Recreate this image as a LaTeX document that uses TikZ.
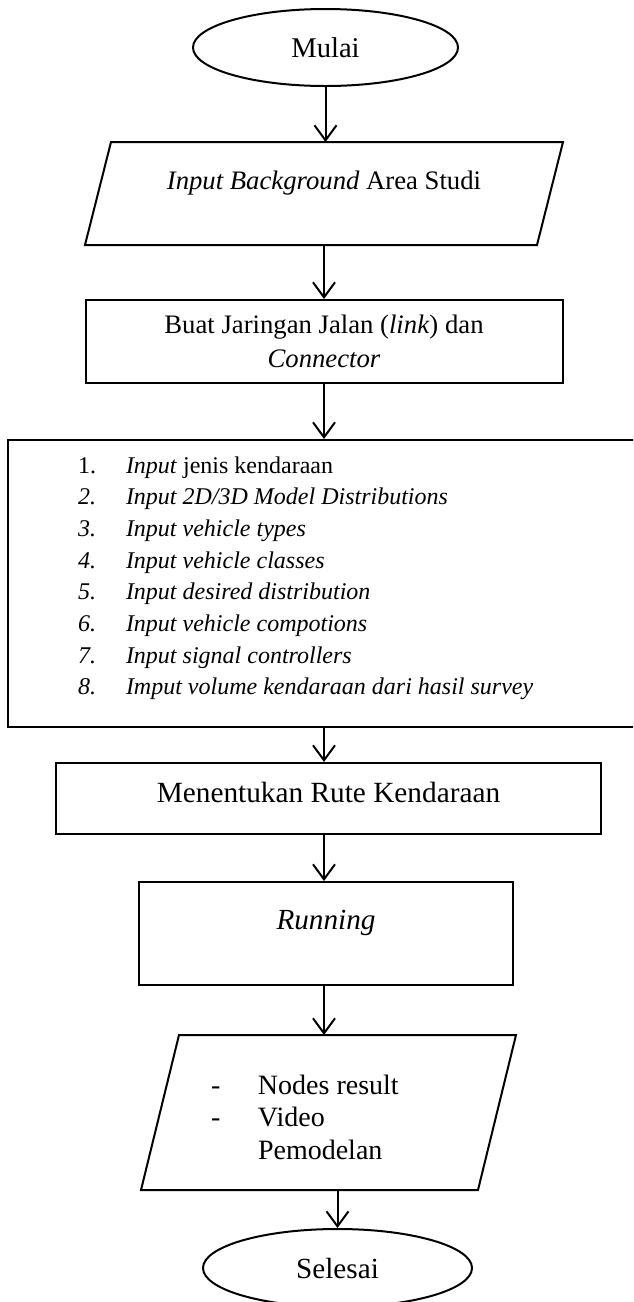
\documentclass[tikz,border=0pt]{standalone}
\usepackage{fontspec}
\setmainfont{Liberation Serif}
\usetikzlibrary{shapes.geometric,arrows.meta}
\newcommand\myfs[2]{\fontsize{#1}{#2}\selectfont}
\begin{document}
\begin{tikzpicture}[x=1pt,y=-1pt,line width=2pt,
  arr/.style={-{Straight Barb[length=15pt,width=22pt,line width=2pt]}},
  term/.style={draw,ellipse,inner sep=0pt,font=\myfs{28.6}{33}},
  procbox/.style={draw,rectangle,inner sep=2pt},
  ghost/.style={rectangle,inner sep=2pt},
  listtext/.style={anchor=base west,inner sep=0pt}]
\useasboundingbox (0,0) rectangle (633,1302);
\clip (0,0) rectangle (633,1302);

% Start
\node[term,minimum width=265pt,minimum height=77pt] (mulai) at (325.5,47.5) {Mulai};

% Input background (parallelogram)
\node[ghost,minimum width=476pt,minimum height=101pt,text height=18pt,text depth=27pt,
  font=\myfs{26.7}{32}] (in1) at (324,193.5) {\textit{Input Background} Area Studi};
\draw ([xshift=26pt]in1.north west) -- (in1.north east) -- ([xshift=-26pt]in1.south east) -- (in1.south west) -- cycle;

% Buat jaringan
\node[procbox,minimum width=477pt,minimum height=83pt,align=center,font=\myfs{26.7}{33.5}]
  (box2) at (324,341.5) {Buat Jaringan Jalan (\textit{link}) dan\\\textit{Connector}};

% Big list box
\node[procbox,minimum width=692pt,minimum height=287pt] (list) at (354,583.5) {};
\node[listtext,font=\myfs{24}{31.7}] (items) at (77,473) {%
\begin{tabular}[t]{@{}p{48pt}@{}l@{}}
1. & \textit{Input} jenis kendaraan\\
\textit{2.} & \textit{Input 2D/3D Model Distributions}\\
\textit{3.} & \textit{Input vehicle types}\\
\textit{4.} & \textit{Input vehicle classes}\\
\textit{5.} & \textit{Input desired distribution}\\
\textit{6.} & \textit{Input vehicle compotions}\\
\textit{7.} & \textit{Input signal controllers}\\
\textit{8.} & \textit{Imput volume kendaraan dari hasil survey}
\end{tabular}};

% Menentukan rute
\node[procbox,minimum width=545pt,minimum height=71pt,text height=20pt,text depth=12.4pt,
  font=\myfs{29.3}{34}] (men) at (328.5,798.5) {Menentukan Rute Kendaraan};

% Running
\node[procbox,minimum width=374pt,minimum height=103pt,text height=20pt,text depth=29pt,
  font=\myfs{29.2}{34}] (run) at (326,933.5) {\textit{Running}};

% Output (parallelogram)
\node[ghost,minimum width=373pt,minimum height=153pt] (out) at (328.5,1112.5) {};
\draw ([xshift=38pt]out.north west) -- (out.north east) -- ([xshift=-38pt]out.south east) -- (out.south west) -- cycle;
\node[listtext,font=\myfs{28}{32.5}] (outtext) at (210,1094) {%
\begin{tabular}[t]{@{}p{47pt}@{}l@{}}
- & Nodes result\\
- & Video\\
  & Pemodelan
\end{tabular}};

% End
\node[term,minimum width=269pt,minimum height=78pt,font=\myfs{29.2}{34}] (selesai) at (337.5,1268) {Selesai};

% Connectors
\draw[arr] (mulai.south) -- (mulai.south |- in1.north);
\draw[arr] (in1.south) -- (in1.south |- box2.north);
\draw[arr] (box2.south) -- (box2.south |- list.north);
\draw[arr] (list.south -| box2.south) -- (box2.south |- men.north);
\draw[arr] (men.south -| box2.south) -- (box2.south |- run.north);
\draw[arr] (run.south -| box2.south) -- (box2.south |- out.north);
\draw[arr] (selesai.north |- out.south) -- (selesai.north);
\end{tikzpicture}
\end{document}
